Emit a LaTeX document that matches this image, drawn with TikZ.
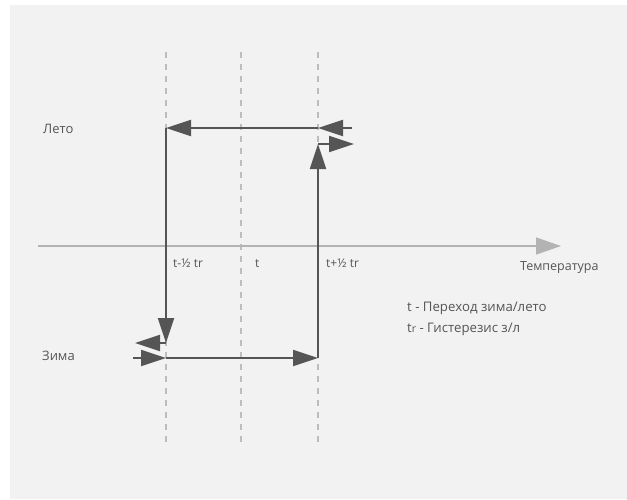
\documentclass[tikz,border=0pt]{standalone}
\usepackage{fontspec}
\setmainfont{Open Sans}
\usetikzlibrary{arrows.meta}
\definecolor{bg}{HTML}{F2F2F2}
\definecolor{ink}{HTML}{555555}
\definecolor{guide}{HTML}{BDBDBD}
\definecolor{axisgray}{HTML}{B3B3B3}
\tikzset{
  lab/.style={text=ink, font=\fontsize{12}{14}\selectfont, inner sep=0pt, anchor=base west},
  seasonLab/.style={lab, font=\fontsize{13}{15}\selectfont},
  legendLab/.style={lab, font=\fontsize{13.2}{15}\selectfont},
  guideLine/.style={draw=guide, line width=1.5pt, dash pattern=on 6pt off 6pt},
  axisLine/.style={draw=axisgray, line width=1.5pt, -{Triangle[length=25pt,width=17pt]}},
  loopLine/.style={draw=ink, line width=2pt, -{Triangle[length=25pt,width=16pt]}}
}

\begin{document}
\begin{tikzpicture}[x=1pt,y=-1pt]
\useasboundingbox (0,0) rectangle (627,499);
\fill[bg] (10,5) rectangle (627,499);

% switching levels t-1/2tr, t, t+1/2tr
\foreach \gx in {166,241,318}
  \draw[guideLine] (\gx,52) -- (\gx,446);

\coordinate (ax0) at (38,246);
\coordinate (ax1) at (561,246);
\draw[axisLine] (ax0) -- (ax1);

% summer branch
\coordinate (s0) at (352,128);
\coordinate (s1) at (318,128);
\coordinate (s2) at (166,128);
% winter branch
\coordinate (w0) at (133,358);
\coordinate (w1) at (166,358);
\coordinate (w2) at (318,358);
\coordinate (d1) at (166,343);
\coordinate (d2) at (135,343);
\coordinate (u1) at (318,144);
\coordinate (u2) at (354,144);

\draw[loopLine] (s0) -- (s1);
\draw[loopLine] (s1) -- (s2);
\draw[loopLine] (s2) -- (d1);
\draw[loopLine] (d1) -- (d2);
\draw[loopLine] (w0) -- (w1);
\draw[loopLine] (w1) -- (w2);
\draw[loopLine] (w2) -- (u1);
\draw[loopLine] (u1) -- (u2);

\node[seasonLab] (leto) at (43,133) {Лето};
\node[seasonLab] (zima) at (42,360) {Зима};
\node[lab] (tlo) at (173,267) {t-½ tr};
\node[lab] (tmid) at (255,267) {t};
\node[lab] (thi) at (326,267) {t+½ tr};
\node[lab, font=\fontsize{12.5}{14}\selectfont] (temp) at (520,270) {Температура};
\node[legendLab] (leg1) at (407,311) {t - Переход зима/лето};
\node[legendLab] (leg2) at (407,332) {t{\fontsize{10.5}{12}\selectfont r} - Гистерезис з/л};
\end{tikzpicture}
\end{document}
